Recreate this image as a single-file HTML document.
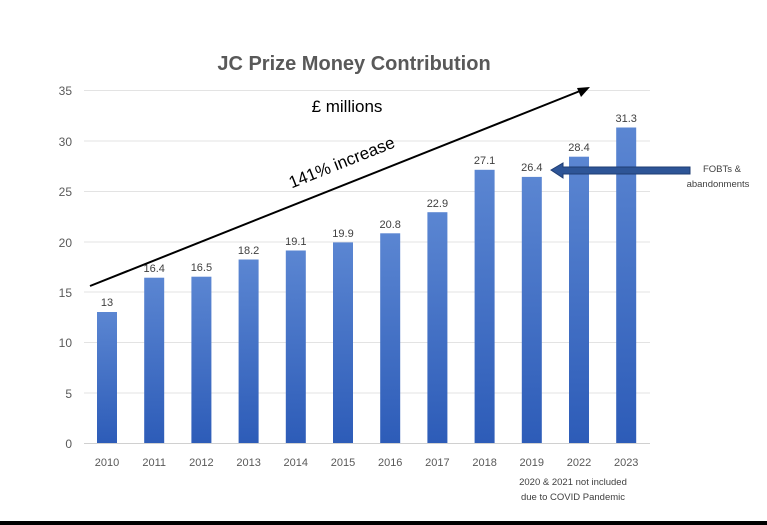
<!DOCTYPE html>
<html><head><style>body{margin:0;background:#fff;}svg{display:block;font-family:"Liberation Sans",sans-serif;}</style></head><body>
<svg width="767" height="525" viewBox="0 0 767 525">
<defs><linearGradient id="g" x1="0" y1="0" x2="0" y2="1"><stop offset="0" stop-color="#5b86d2"/><stop offset="1" stop-color="#2d5cb8"/></linearGradient></defs>
<rect width="767" height="525" fill="#fff"/>
<text x="354" y="70" text-anchor="middle" font-size="20" font-weight="bold" fill="#595959">JC Prize Money Contribution</text>
<g stroke="#e3e3e3" stroke-width="1">
<line x1="84" x2="650" y1="90.5" y2="90.5"/><line x1="84" x2="650" y1="141" y2="141"/><line x1="84" x2="650" y1="191.5" y2="191.5"/><line x1="84" x2="650" y1="242" y2="242"/><line x1="84" x2="650" y1="292" y2="292"/><line x1="84" x2="650" y1="342.5" y2="342.5"/><line x1="84" x2="650" y1="393" y2="393"/>
</g>
<line x1="84" x2="650" y1="443.5" y2="443.5" stroke="#d0d0d0"/>
<g font-size="12" fill="#595959" text-anchor="end">
<text x="72" y="95">35</text><text x="72" y="146">30</text><text x="72" y="196">25</text><text x="72" y="247">20</text><text x="72" y="297">15</text><text x="72" y="347">10</text><text x="72" y="398">5</text><text x="72" y="448">0</text>
</g>
<g fill="url(#g)">
<rect x="97" y="312" width="20" height="131"/>
<rect x="144.2" y="277.7" width="20" height="165.3"/>
<rect x="191.4" y="276.7" width="20" height="166.3"/>
<rect x="238.6" y="259.5" width="20" height="183.5"/>
<rect x="285.8" y="250.5" width="20" height="192.5"/>
<rect x="333" y="242.4" width="20" height="200.6"/>
<rect x="380.2" y="233.3" width="20" height="209.7"/>
<rect x="427.4" y="212.2" width="20" height="230.8"/>
<rect x="474.6" y="169.8" width="20" height="273.2"/>
<rect x="521.8" y="176.9" width="20" height="266.1"/>
<rect x="569" y="156.7" width="20" height="286.3"/>
<rect x="616.2" y="127.5" width="20" height="315.5"/>
</g>
<g font-size="11" fill="#404040" text-anchor="middle">
<text x="107" y="306">13</text>
<text x="154.2" y="272">16.4</text>
<text x="201.4" y="271">16.5</text>
<text x="248.6" y="254">18.2</text>
<text x="295.8" y="245">19.1</text>
<text x="343" y="237">19.9</text>
<text x="390.2" y="228">20.8</text>
<text x="437.4" y="207">22.9</text>
<text x="484.6" y="164">27.1</text>
<text x="531.8" y="171">26.4</text>
<text x="579" y="151">28.4</text>
<text x="626.2" y="122">31.3</text>
</g>
<g font-size="11" fill="#595959" text-anchor="middle">
<text x="107" y="466">2010</text>
<text x="154.2" y="466">2011</text>
<text x="201.4" y="466">2012</text>
<text x="248.6" y="466">2013</text>
<text x="295.8" y="466">2014</text>
<text x="343" y="466">2015</text>
<text x="390.2" y="466">2016</text>
<text x="437.4" y="466">2017</text>
<text x="484.6" y="466">2018</text>
<text x="531.8" y="466">2019</text>
<text x="579" y="466">2022</text>
<text x="626.2" y="466">2023</text>
</g>
<line x1="90" y1="286" x2="580" y2="91" stroke="#000" stroke-width="2"/>
<polygon points="590,87 577,88 581,97" fill="#000"/>
<text x="347" y="112" text-anchor="middle" font-size="17" fill="#000">£ millions</text>
<text x="342" y="168" text-anchor="middle" font-size="17" fill="#000" transform="rotate(-21.7 342 163)">141% increase</text>
<polygon points="551,170 563,163 563,167 690,167 690,174 563,174 563,178" fill="#2e5597" stroke="#1f3d73" stroke-width="1"/>
<text x="722" y="172" text-anchor="middle" font-size="9.5" fill="#404040">FOBTs &amp;</text>
<text x="718" y="187" text-anchor="middle" font-size="9.5" fill="#404040">abandonments</text>
<text x="573" y="485" text-anchor="middle" font-size="9.5" fill="#404040">2020 &amp; 2021 not included</text>
<text x="573" y="500" text-anchor="middle" font-size="9.5" fill="#404040">due to COVID Pandemic</text>
<rect x="0" y="521" width="767" height="4" fill="#000"/>
</svg>
</body></html>
